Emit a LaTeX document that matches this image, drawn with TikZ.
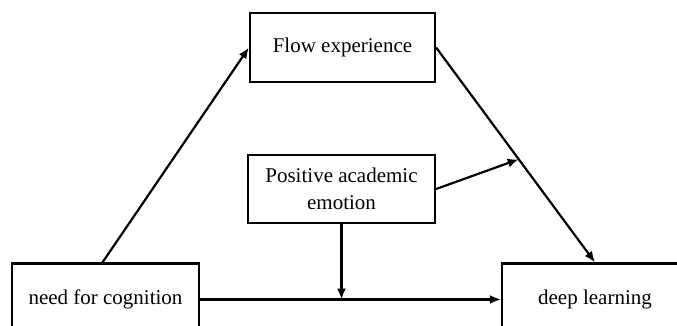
\documentclass[tikz,border=0pt]{standalone}
\usepackage{fontspec}
\setmainfont{Liberation Serif}
\usetikzlibrary{arrows.meta,calc}
\begin{document}
\begin{tikzpicture}[x=1pt,y=-1pt,
  box/.style={draw,line width=2.2pt,inner sep=0pt,align=center,font=\fontsize{21}{27}\selectfont},
  conn/.style={line width=2.2pt,-{Latex[length=11pt,width=9pt]}}]
\useasboundingbox (0,0) rectangle (677,326);
\clip (0,0) rectangle (677,326);
\fill[white] (0,0) rectangle (677,326);
\node[box,minimum width=185pt,minimum height=69pt] (flow) at (342.5,47.5) {Flow experience};
\node[box,minimum width=187pt,minimum height=68pt] (pos) at (341.5,189) {Positive academic\\emotion};
\node[box,minimum width=187pt,minimum height=72pt] (need) at (105.5,299.5) {need for cognition};
\node[box,minimum width=186pt,minimum height=72pt] (deep) at (595,299.5) {deep learning};
\coordinate (m1) at ($(flow.east)!0.52!(deep.north)$);
\coordinate (m2) at (pos.south |- need.east);
\draw[conn] ([xshift=-3pt]need.north) -- (flow.west);
\draw[conn] (flow.east) -- (deep.north);
\draw[conn] (pos.east) -- (m1);
\draw[conn] (need.east) -- (deep.west);
\draw[conn] (pos.south) -- (m2);
\end{tikzpicture}
\end{document}
